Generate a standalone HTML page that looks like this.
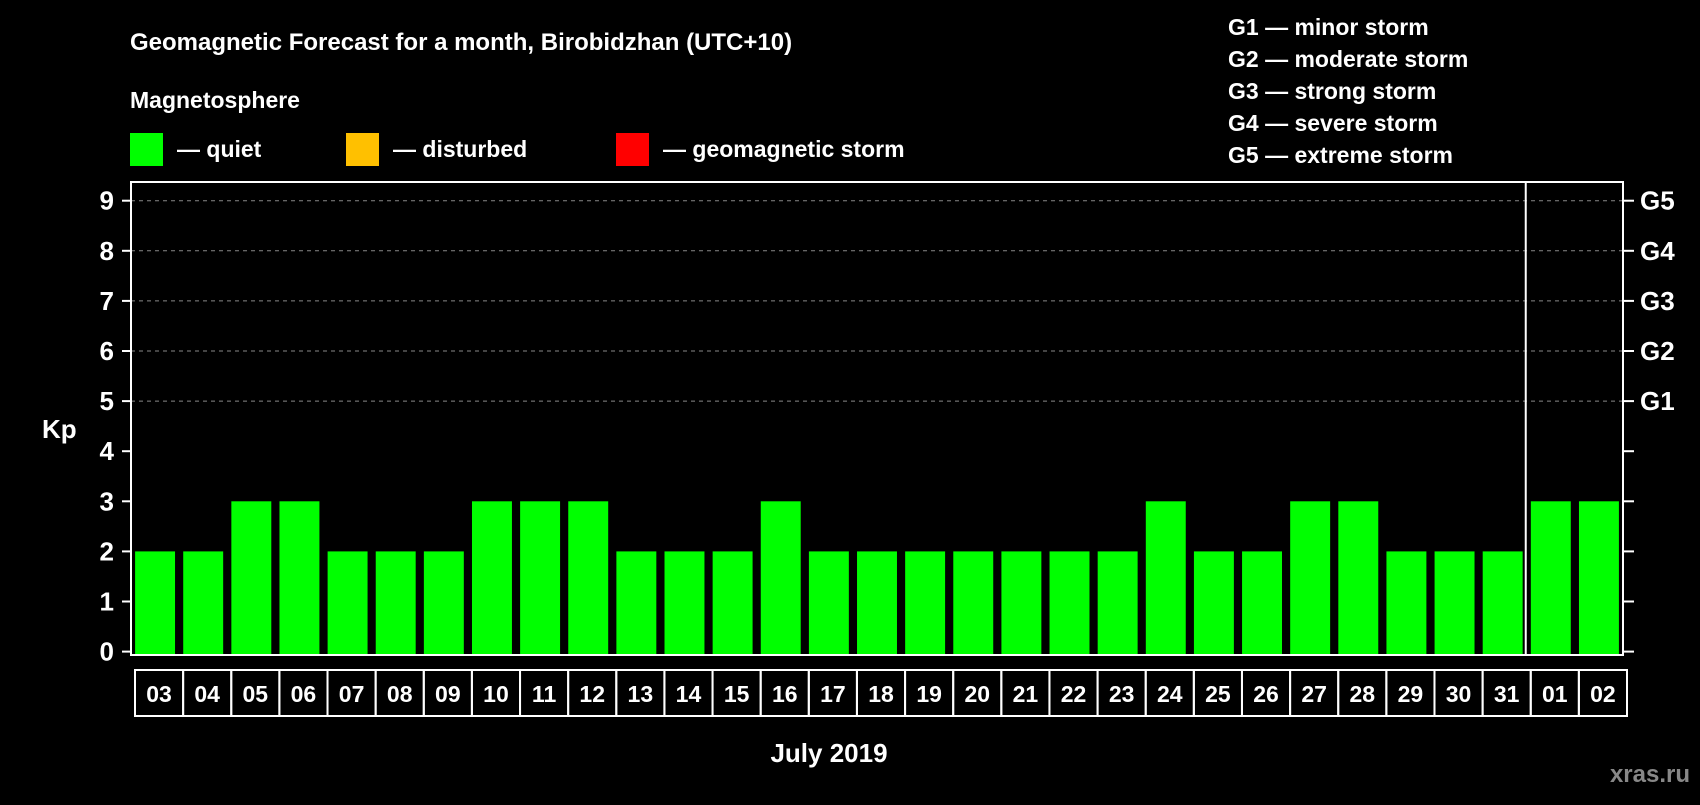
<!DOCTYPE html>
<html><head><meta charset="utf-8"><style>
body{margin:0;background:#000;width:1700px;height:800px;overflow:hidden}
svg text{font-family:"Liberation Sans",sans-serif;font-weight:bold;fill:#fff}
</style></head><body>
<svg id="c" width="1700" height="800">
<text x="130" y="50" font-size="24">Geomagnetic Forecast for a month, Birobidzhan (UTC+10)</text>
<text x="130" y="108" font-size="23">Magnetosphere</text>
<rect x="130" y="133" width="33" height="33" fill="#00ff00"/>
<text x="177" y="157" font-size="23">— quiet</text>
<rect x="346" y="133" width="33" height="33" fill="#ffc000"/>
<text x="393" y="157" font-size="23">— disturbed</text>
<rect x="616" y="133" width="33" height="33" fill="#ff0000"/>
<text x="663" y="157" font-size="23">— geomagnetic storm</text>
<g font-size="23">
<text x="1228" y="35">G1 — minor storm</text>
<text x="1228" y="67">G2 — moderate storm</text>
<text x="1228" y="99">G3 — strong storm</text>
<text x="1228" y="131">G4 — severe storm</text>
<text x="1228" y="163">G5 — extreme storm</text>
</g>
<text x="42" y="438" font-size="26">Kp</text>
<text x="829" y="762" font-size="26" text-anchor="middle">July 2019</text>
<text x="1690" y="782" font-size="24" text-anchor="end" style="fill:#888">xras.ru</text>
<g id="plot"></g>
</svg>
<script>
const days=["03","04","05","06","07","08","09","10","11","12","13","14","15","16","17","18","19","20","21","22","23","24","25","26","27","28","29","30","31","01","02"];
const kp=[2,2,3,3,2,2,2,3,3,3,2,2,2,3,2,2,2,2,2,2,2,3,2,2,3,3,2,2,2,3,3];
const yTicks=[0,1,2,3,4,5,6,7,8,9];
const gLabels=["G1","G2","G3","G4","G5"];
const NS="http://www.w3.org/2000/svg";
const L=131,R=1623,T=182,B=655,Y0=651.6,U=50.1;
const y=v=>Y0-v*U;
const slot=(R-L)/days.length;
const x=i=>L+i*slot;
const g=document.getElementById('plot');
function mk(t,a){const e=document.createElementNS(NS,t);for(const k in a)e.setAttribute(k,a[k]);g.appendChild(e);return e;}
yTicks.forEach(v=>{
 if(v>=5){const l=mk('line',{x1:L,x2:R,y1:y(v),y2:y(v),stroke:'#888','stroke-dasharray':'4,4','stroke-width':1});
 
 }
 const t1=mk('line',{x1:L-9,x2:L,y1:y(v),y2:y(v),stroke:'#fff','stroke-width':2});
 
 
 const t2=mk('line',{x1:R,x2:R+11,y1:y(v),y2:y(v),stroke:'#fff','stroke-width':2});
 
 
 const tx=mk('text',{x:114,y:y(v)+9,'font-size':26,'text-anchor':'end'});tx.textContent=v;
 
 
});
gLabels.forEach((s,i)=>{const tx=mk('text',{x:1640,y:y(5+i)+9,'font-size':26});tx.textContent=s;
 
 });
kp.forEach((v,i)=>{
 const c=v>=5?'#ff0000':v>=4?'#ffc000':'#00ff00';
 const r=mk('rect',{x:x(i)+slot*0.085,y:y(v),width:slot*0.83,height:B-y(v),fill:c});
 
 
 const b=mk('rect',{x:x(i)+4,y:670,width:slot,height:46,fill:'none',stroke:'#fff','stroke-width':2});
 
 
 const t=mk('text',{x:x(i)+4+slot/2,y:702,'font-size':23,'text-anchor':'middle'});t.textContent=days[i];
 
 
});
const f=mk('rect',{x:L,y:T,width:R-L,height:B-T,fill:'none',stroke:'#fff','stroke-width':2});


const si=days.indexOf("01");
const sep=mk('line',{x1:x(si)-1,x2:x(si)-1,y1:T,y2:B,stroke:'#fff','stroke-width':2});


</script>
</body></html>
